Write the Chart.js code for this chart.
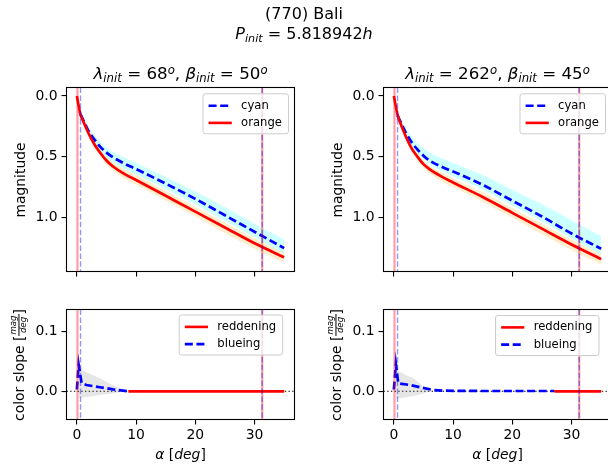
<!DOCTYPE html>
<html>
<head>
<meta charset="utf-8">
<script src="https://cdn.jsdelivr.net/npm/chart.js@4.4.1/dist/chart.umd.min.js"></script>
<style>
  html, body { margin: 0; padding: 0; background: #fff; overflow: hidden; }
  #fig { position: relative; width: 608px; height: 472px; overflow: hidden; background: #fff;
         font-family: "DejaVu Sans", sans-serif; color: #000; }
  #fig canvas { position: absolute; left: 0; top: 0; }
  .txt { position: absolute; white-space: nowrap; transform: translate(-50%, -50%); line-height: 1; }
  .rot { position: absolute; white-space: nowrap; transform: translate(-50%, -50%) rotate(-90deg); line-height: 1; font-size: 13.9px; }
  .sub { font-size: 70%; font-style: italic; position: relative; top: 0.25em; }
  .sup { font-size: 70%; font-style: italic; position: relative; top: -0.45em; }
  .frac { display: inline-block; vertical-align: middle; font-size: 62%; font-style: italic; text-align: center; line-height: 1.05; position: relative; top: -0.1em; }
  .frac span { display: block; padding: 0 1px; }
  .frac span:first-child { border-bottom: 1px solid #000; }
</style>
</head>
<body>
<div id="fig">
  <canvas id="magLeft" width="620" height="472"></canvas>
  <canvas id="magRight" width="620" height="472"></canvas>
  <canvas id="slopeLeft" width="620" height="472"></canvas>
  <canvas id="slopeRight" width="620" height="472"></canvas>

  <div class="txt" style="left:304px;top:14px;font-size:16px;">(770) Bali</div>
  <div class="txt" style="left:304px;top:34px;font-size:16px;"><i>P</i><span class="sub">init</span> = 5.818942<i>h</i></div>

  <div class="txt" style="left:180.5px;top:73px;font-size:16.7px;"><i>λ</i><span class="sub">init</span> = 68<span class="sup">o</span>, <i>β</i><span class="sub">init</span> = 50<span class="sup">o</span></div>
  <div class="txt" style="left:497.5px;top:73px;font-size:16.7px;"><i>λ</i><span class="sub">init</span> = 262<span class="sup">o</span>, <i>β</i><span class="sub">init</span> = 45<span class="sup">o</span></div>

  <div class="rot" style="left:21px;top:179.5px;">magnitude</div>
  <div class="rot" style="left:338px;top:179.5px;">magnitude</div>
  <div class="rot" style="left:20px;top:364.5px;">color slope [<span class="frac"><span>mag</span><span>deg</span></span>]</div>
  <div class="rot" style="left:337px;top:364.5px;">color slope [<span class="frac"><span>mag</span><span>deg</span></span>]</div>

  <div class="txt" style="left:180.5px;top:455px;font-size:13.9px;"><i>α</i> [<i>deg</i>]</div>
  <div class="txt" style="left:497.5px;top:455px;font-size:13.9px;"><i>α</i> [<i>deg</i>]</div>
</div>

<script>
// ---- phase angles (deg) ----
const alphaOrange = [0, 0.6, 1, 2, 3, 4, 5, 6, 8, 10, 15, 20, 25, 30, 35];
const alphaCyan   = [0.62, 1, 2, 3, 4, 5, 6, 8, 10, 15, 20, 25, 30, 35];

// ---- left pole solution: magnitudes ----
const leftOrange     = [0, 0.15, 0.20, 0.31, 0.40, 0.47, 0.53, 0.575, 0.64, 0.69, 0.82, 0.95, 1.08, 1.21, 1.325];
const leftOrangeLow  = [0, 0.135, 0.18, 0.285, 0.37, 0.44, 0.495, 0.54, 0.60, 0.65, 0.78, 0.91, 1.04, 1.17, 1.285];
const leftOrangeHigh = [0, 0.165, 0.22, 0.335, 0.43, 0.50, 0.565, 0.61, 0.68, 0.73, 0.86, 0.99, 1.125, 1.255, 1.37];
const leftCyan       = [0.15, 0.19, 0.29, 0.36, 0.42, 0.465, 0.50, 0.555, 0.60, 0.72, 0.845, 0.98, 1.115, 1.25];
const leftCyanLow    = [0.13, 0.165, 0.26, 0.325, 0.38, 0.425, 0.455, 0.505, 0.55, 0.665, 0.785, 0.915, 1.05, 1.18];
const leftCyanHigh   = [0.17, 0.215, 0.32, 0.395, 0.455, 0.505, 0.54, 0.60, 0.645, 0.765, 0.89, 1.025, 1.16, 1.295];

// ---- right pole solution: magnitudes ----
const rightOrange     = [0, 0.15, 0.21, 0.33, 0.43, 0.50, 0.56, 0.60, 0.66, 0.71, 0.83, 0.96, 1.09, 1.22, 1.34];
const rightOrangeLow  = [0, 0.135, 0.19, 0.305, 0.40, 0.47, 0.53, 0.57, 0.625, 0.675, 0.79, 0.92, 1.05, 1.18, 1.30];
const rightOrangeHigh = [0, 0.165, 0.23, 0.355, 0.46, 0.53, 0.59, 0.635, 0.70, 0.75, 0.87, 1.00, 1.135, 1.265, 1.385];
const rightCyan       = [0.16, 0.20, 0.30, 0.38, 0.44, 0.49, 0.53, 0.58, 0.62, 0.73, 0.86, 0.99, 1.13, 1.255];
const rightCyanLow    = [0.14, 0.17, 0.26, 0.33, 0.39, 0.43, 0.465, 0.51, 0.55, 0.65, 0.77, 0.89, 1.02, 1.15];
const rightCyanHigh   = [0.18, 0.22, 0.33, 0.41, 0.47, 0.52, 0.56, 0.615, 0.66, 0.77, 0.90, 1.03, 1.17, 1.30];

// ---- color slope (mag/deg) ----
const alphaBlueingLeft  = [0, 0.3, 0.8, 1.6, 3.9, 6.1, 8.7];
const blueingLeft       = [0.003, 0.044, 0.0135, 0.0105, 0.0067, 0.0033, 0.0];
const alphaReddenLeft   = [8.7, 15, 20, 25, 30, 35];
const reddeningLeft     = [0, 0, 0, 0, 0, 0];
const alphaSpreadLeft   = [0.3, 0.7, 2, 3.9, 5.5, 6.7, 8.4];
const spreadHighLeft    = [0.035, 0.0367, 0.030, 0.0217, 0.013, 0.0077, 0.0];
const spreadLowLeft     = [-0.01, -0.011, -0.009, -0.006, -0.004, -0.0023, 0.0];

const alphaBlueingRight = [0, 0.34, 0.74, 2.7, 4.4, 6.6, 8.3, 15, 20, 27.1];
const blueingRight      = [0.003, 0.045, 0.0133, 0.0105, 0.0067, 0.0022, 0.001, 0.0005, 0.0005, 0.0005];
const alphaReddenRight  = [27.1, 30, 35];
const reddeningRight    = [0, 0, 0];
const alphaSpreadRight  = [0.3, 0.45, 2, 3.3, 4.5, 5.5, 6.4];
const spreadHighRight   = [0.035, 0.0355, 0.027, 0.0217, 0.012, 0.005, 0.0];
const spreadLowRight    = [-0.012, -0.013, -0.010, -0.008, -0.005, -0.002, 0.0];

// ---- epoch markers (deg) ----
const orangeMarks = [0.1, 31.3];
const cyanMarks   = [0.62, 31.3];

// ---- axis ticks ----
const alphaTicks = [0, 10, 20, 30];
const magTicks   = [0, 0.5, 1.0];
const slopeTicks = [0, 0.1];

const FONT = '"DejaVu Sans"';
const CW = 620, CH = 472, YW = 50, XH = 28;

const pts = (xs, ys) => xs.map((x, i) => ({ x: x, y: ys[i] }));

// frame, reference lines, markers and legend for each axes
const decor = {
  id: 'decor',
  beforeDatasetsDraw(chart, args, o) {
    const { ctx, chartArea: a, scales: { y } } = chart;
    (o.hlines || []).forEach(h => {
      const py = y.getPixelForValue(h);
      ctx.save();
      ctx.strokeStyle = '#000'; ctx.lineWidth = 1.1; ctx.setLineDash([1.4, 2.3]);
      ctx.beginPath(); ctx.moveTo(a.left, py); ctx.lineTo(a.right, py); ctx.stroke();
      ctx.restore();
    });
  },
  afterDatasetsDraw(chart, args, o) {
    const { ctx, chartArea: a, scales: { x } } = chart;
    ctx.save();
    ctx.beginPath(); ctx.rect(a.left, a.top, a.right - a.left, a.bottom - a.top); ctx.clip();
    (o.redMarks || []).forEach(v => {
      const px = x.getPixelForValue(v);
      ctx.strokeStyle = 'rgba(255,0,0,0.38)'; ctx.lineWidth = 2.2; ctx.setLineDash([]);
      ctx.beginPath(); ctx.moveTo(px, a.top); ctx.lineTo(px, a.bottom); ctx.stroke();
    });
    (o.blueMarks || []).forEach(v => {
      const px = x.getPixelForValue(v);
      ctx.strokeStyle = 'rgba(0,0,255,0.42)'; ctx.lineWidth = 1.4; ctx.setLineDash([5.5, 2.4]);
      ctx.beginPath(); ctx.moveTo(px, a.top); ctx.lineTo(px, a.bottom); ctx.stroke();
    });
    ctx.restore();
  },
  afterDraw(chart, args, o) {
    const { ctx, chartArea: a } = chart;
    ctx.save();
    ctx.strokeStyle = '#000'; ctx.lineWidth = 1.1; ctx.setLineDash([]);
    ctx.strokeRect(a.left, a.top, a.right - a.left, a.bottom - a.top);
    const lg = o.legend;
    if (lg) {
      const fs = 11.6;
      ctx.font = fs + 'px ' + FONT;
      const pad = 4.6, hl = 23.2, gap = 9.3, row = 17.2;
      const tw = Math.max(...lg.items.map(it => ctx.measureText(it.label).width));
      const w = pad + 2 + hl + gap + tw + pad + 1;
      const h = pad * 2 + row * (lg.items.length - 1) + fs + 2;
      const bx = a.right - lg.dx - w, by = a.top + lg.dy;
      ctx.beginPath();
      if (ctx.roundRect) ctx.roundRect(bx, by, w, h, 2.5); else ctx.rect(bx, by, w, h);
      ctx.fillStyle = 'rgba(255,255,255,0.8)'; ctx.fill();
      ctx.strokeStyle = '#cccccc'; ctx.lineWidth = 1; ctx.stroke();
      lg.items.forEach((it, i) => {
        const cy = by + pad + 1 + fs / 2 + 0.5 + i * row;
        ctx.strokeStyle = it.color; ctx.lineWidth = 2.6; ctx.setLineDash(it.dash || []);
        ctx.beginPath(); ctx.moveTo(bx + pad + 1, cy); ctx.lineTo(bx + pad + 1 + hl, cy); ctx.stroke();
        ctx.fillStyle = '#000'; ctx.textBaseline = 'middle'; ctx.textAlign = 'left';
        ctx.fillText(it.label, bx + pad + 1 + hl + gap, cy);
      });
    }
    ctx.restore();
  }
};

function axes(box, yMin, yMax, yTicks, reverse, showX, yFmt) {
  const grid = { display: true, drawOnChartArea: false, drawTicks: true, tickLength: 5,
                 color: '#000', tickColor: '#000', lineWidth: 1.1, tickWidth: 1.1 };
  return {
    x: {
      type: 'linear', min: -1.75, max: 36.75,
      afterFit: s => { s.height = XH; },
      afterBuildTicks: s => { s.ticks = alphaTicks.map(v => ({ value: v })); },
      grid: grid, border: { display: false },
      ticks: { display: showX, color: '#000', font: { family: FONT, size: 13.9 }, padding: 3,
               maxRotation: 0, autoSkip: false, callback: v => String(v) }
    },
    y: {
      type: 'linear', min: yMin, max: yMax, reverse: reverse,
      afterFit: s => { s.width = YW; },
      afterBuildTicks: s => { s.ticks = yTicks.map(v => ({ value: v })); },
      grid: grid, border: { display: false },
      ticks: { color: '#000', font: { family: FONT, size: 13.9 }, padding: 4,
               autoSkip: false, callback: yFmt }
    }
  };
}

function panel(id, box, datasets, scales, decorOpts) {
  new Chart(document.getElementById(id), {
    type: 'line',
    data: { datasets: datasets },
    options: {
      responsive: false, animation: false, devicePixelRatio: 1,
      events: [],
      layout: { padding: { left: box.l - YW, right: CW - box.r, top: box.t, bottom: CH - box.b - XH } },
      elements: { point: { radius: 0 } },
      plugins: { legend: { display: false }, title: { display: false }, tooltip: { enabled: false },
                 decor: decorOpts },
      scales: scales
    },
    plugins: [decor]
  });
}

const CYAN_FILL = 'rgba(0,255,255,0.2)';
const ORANGE_FILL = 'rgba(255,165,0,0.2)';
const GRAY_FILL = 'rgba(128,128,128,0.2)';
const DASH = [8, 3.6];

function magSets(orange, oLow, oHigh, cyan, cLow, cHigh) {
  const smooth = { cubicInterpolationMode: 'monotone', pointRadius: 0 };
  return [
    Object.assign({ label: 'orange', data: pts(alphaOrange, orange), borderColor: 'red', borderWidth: 2.7, fill: false }, smooth),
    Object.assign({ label: 'cyan', data: pts(alphaCyan, cyan), borderColor: 'blue', borderWidth: 2.7, borderDash: DASH, fill: false }, smooth),
    Object.assign({ data: pts(alphaCyan, cLow), borderWidth: 0, borderColor: 'rgba(0,0,0,0)', backgroundColor: CYAN_FILL, fill: 3 }, smooth),
    Object.assign({ data: pts(alphaCyan, cHigh), borderWidth: 0, borderColor: 'rgba(0,0,0,0)', fill: false }, smooth),
    Object.assign({ data: pts(alphaOrange, oLow), borderWidth: 0, borderColor: 'rgba(0,0,0,0)', backgroundColor: ORANGE_FILL, fill: 5 }, smooth),
    Object.assign({ data: pts(alphaOrange, oHigh), borderWidth: 0, borderColor: 'rgba(0,0,0,0)', fill: false }, smooth)
  ];
}

function slopeSets(aRed, red, aBlue, blue, aSpread, sHigh, sLow) {
  return [
    { label: 'reddening', data: pts(aRed, red), borderColor: 'red', borderWidth: 2.7, fill: false, pointRadius: 0 },
    { label: 'blueing', data: pts(aBlue, blue), borderColor: 'blue', borderWidth: 2.7, borderDash: DASH, fill: false, pointRadius: 0 },
    { data: pts(aSpread, sHigh), borderWidth: 0, borderColor: 'rgba(0,0,0,0)', backgroundColor: GRAY_FILL, fill: 3, pointRadius: 0 },
    { data: pts(aSpread, sLow), borderWidth: 0, borderColor: 'rgba(0,0,0,0)', fill: false, pointRadius: 0 }
  ];
}

const magBoxL = { l: 66.5, r: 294.5, t: 87.5, b: 271.5 };
const magBoxR = { l: 383.5, r: 611.5, t: 87.5, b: 271.5 };
const slopeBoxL = { l: 66.5, r: 294.5, t: 309.5, b: 419.5 };
const slopeBoxR = { l: 383.5, r: 611.5, t: 309.5, b: 419.5 };

const magLegend = { dx: 6, dy: 6.3, items: [
  { label: 'cyan', color: 'blue', dash: DASH },
  { label: 'orange', color: 'red' } ] };
const slopeLegendL = { dx: 11.8, dy: 5.5, items: [
  { label: 'reddening', color: 'red' },
  { label: 'blueing', color: 'blue', dash: DASH } ] };
const slopeLegendR = { dx: 12.5, dy: 6, items: slopeLegendL.items };

const fmt1 = v => v.toFixed(1);

panel('magLeft', magBoxL,
  magSets(leftOrange, leftOrangeLow, leftOrangeHigh, leftCyan, leftCyanLow, leftCyanHigh),
  axes(magBoxL, -0.07, 1.442, magTicks, true, false, fmt1),
  { redMarks: orangeMarks, blueMarks: cyanMarks, legend: magLegend });

panel('magRight', magBoxR,
  magSets(rightOrange, rightOrangeLow, rightOrangeHigh, rightCyan, rightCyanLow, rightCyanHigh),
  axes(magBoxR, -0.07, 1.442, magTicks, true, false, fmt1),
  { redMarks: orangeMarks, blueMarks: cyanMarks, legend: magLegend });

panel('slopeLeft', slopeBoxL,
  slopeSets(alphaReddenLeft, reddeningLeft, alphaBlueingLeft, blueingLeft, alphaSpreadLeft, spreadHighLeft, spreadLowLeft),
  axes(slopeBoxL, -0.047, 0.1363, slopeTicks, false, true, fmt1),
  { hlines: [0], redMarks: orangeMarks, blueMarks: cyanMarks, legend: slopeLegendL });

panel('slopeRight', slopeBoxR,
  slopeSets(alphaReddenRight, reddeningRight, alphaBlueingRight, blueingRight, alphaSpreadRight, spreadHighRight, spreadLowRight),
  axes(slopeBoxR, -0.047, 0.1363, slopeTicks, false, true, fmt1),
  { hlines: [0], redMarks: orangeMarks, blueMarks: cyanMarks, legend: slopeLegendR });
</script>
</body>
</html>
